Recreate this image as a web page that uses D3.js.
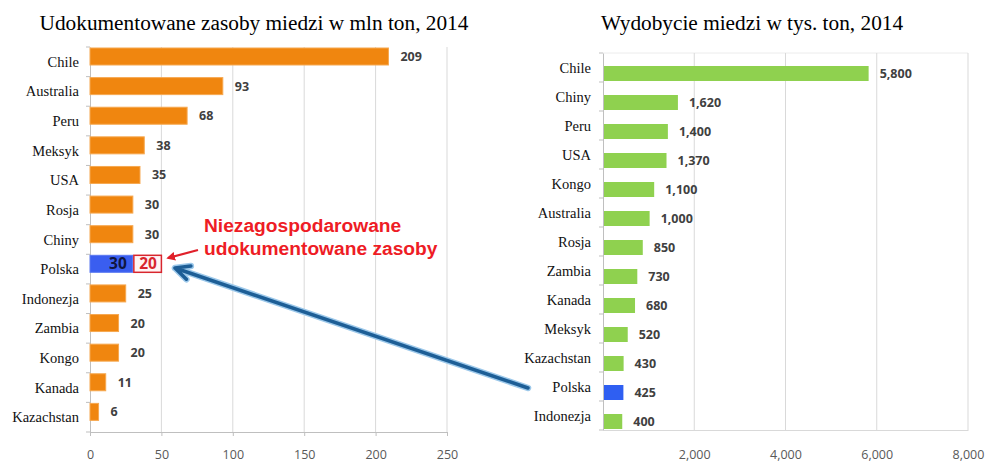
<!DOCTYPE html>
<html>
<head>
<meta charset="utf-8">
<script src="https://cdn.jsdelivr.net/npm/d3@7"></script>
<style>
  body { margin: 0; background: #fff; }
  .title { font-family: "Liberation Serif", "Times New Roman", serif; font-size: 21.3px; fill: #000; }
  .cat { font-family: "Liberation Serif", "Times New Roman", serif; font-size: 14.5px; fill: #111; }
  .val { font-family: "Open Sans", sans-serif; font-size: 12.5px; font-weight: 700; fill: #404040; }
  .tick text { font-family: "Open Sans", sans-serif; font-size: 12.5px; fill: #595959; }
</style>
</head>
<body>
<div id="chart"></div>
<script>
var width = 985,
    height = 462

// left chart: documented copper reserves, mln t
var resCountries = ["Chile", "Australia", "Peru", "Meksyk", "USA", "Rosja", "Chiny", "Polska", "Indonezja", "Zambia", "Kongo", "Kanada", "Kazachstan"]
var resValues = [209, 93, 68, 38, 35, 30, 30, 30, 25, 20, 20, 11, 6]
var resUndeveloped = 20   // extra Polish reserves not yet developed
var resTicks = [0, 50, 100, 150, 200, 250]

// right chart: copper mining, thousand t
var prodCountries = ["Chile", "Chiny", "Peru", "USA", "Kongo", "Australia", "Rosja", "Zambia", "Kanada", "Meksyk", "Kazachstan", "Polska", "Indonezja"]
var prodValues = [5800, 1620, 1400, 1370, 1100, 1000, 850, 730, 680, 520, 430, 425, 400]
var prodTicks = [2000, 4000, 6000, 8000]

var svg = d3.select("#chart")
  .append("svg")
    .attr("width", width)
    .attr("height", height)

var defs = svg.append("defs")
defs.append("marker")
    .attr("id", "redhead")
    .attr("viewBox", "0 0 10 10")
    .attr("refX", 8).attr("refY", 5)
    .attr("markerWidth", 4).attr("markerHeight", 4)
    .attr("orient", "auto")
  .append("path")
    .attr("d", "M0,0 L10,5 L0,10 z")
    .attr("fill", "#e0202a")

// ---------- left chart ----------
var x1 = d3.scaleLinear().domain([0, 250]).range([90, 447])
var y1 = d3.scaleBand().domain(resCountries).range([47, 432])

var g1 = svg.append("g")

g1.append("text")
    .attr("class", "title")
    .attr("x", 254).attr("y", 30)
    .attr("text-anchor", "middle")
    .text("Udokumentowane zasoby miedzi w mln ton, 2014")

g1.append("g")
    .attr("transform", "translate(0,432)")
    .call(d3.axisBottom(x1).tickValues(resTicks).tickSize(4).tickPadding(14))
    .call(function(g) {
      g.select(".domain").attr("stroke", "#bfbfbf")
      g.selectAll(".tick line").attr("stroke", "#bfbfbf")
    })

g1.selectAll("grid1")
  .data(resTicks.slice(1))
  .enter()
  .append("line")
    .attr("x1", function(d){ return x1(d) })
    .attr("x2", function(d){ return x1(d) })
    .attr("y1", 47).attr("y2", 432)
    .attr("stroke", "#d9d9d9")

g1.append("g")
    .attr("transform", "translate(90,0)")
    .call(d3.axisLeft(y1).tickSize(0).tickFormat(""))
    .call(function(g) { g.select(".domain").attr("stroke", "#bfbfbf") })

g1.selectAll("ytick1")
  .data(resCountries.concat(["end"]))
  .enter()
  .append("line")
    .attr("x1", 86).attr("x2", 90)
    .attr("y1", function(d, i){ return 47 + i * y1.step() })
    .attr("y2", function(d, i){ return 47 + i * y1.step() })
    .attr("stroke", "#bfbfbf")

g1.selectAll("cat1")
  .data(resCountries)
  .enter()
  .append("text")
    .attr("class", "cat")
    .attr("x", 79)
    .attr("y", function(d){ return y1(d) + y1.bandwidth() / 2 + 5 })
    .attr("text-anchor", "end")
    .text(function(d){ return d })

g1.selectAll("bar1")
  .data(resCountries)
  .enter()
  .append("rect")
    .attr("x", x1(0))
    .attr("y", function(d){ return y1(d) + 1 })
    .attr("width", function(d, i){ return x1(resValues[i]) - x1(0) })
    .attr("height", 17)
    .attr("fill", function(d){ return d == "Polska" ? "#3a5ef0" : "#f0860f" })
    .attr("stroke", function(d){ return d == "Polska" ? "#5a78f0" : "#f6a850" })
    .attr("stroke-width", 1)

g1.selectAll("val1")
  .data(resCountries)
  .enter()
  .filter(function(d){ return d != "Polska" })
  .append("text")
    .attr("class", "val")
    .attr("x", function(d, i){ return x1(resValues[resCountries.indexOf(d)]) + 12 })
    .attr("y", function(d){ return y1(d) + 14 })
    .text(function(d){ return resValues[resCountries.indexOf(d)] })

// Polska: developed + undeveloped reserves
var pIdx = resCountries.indexOf("Polska")
g1.append("rect")
    .attr("x", x1(resValues[pIdx]) + 1)
    .attr("y", y1("Polska") + 1)
    .attr("width", x1(resValues[pIdx] + resUndeveloped) - x1(resValues[pIdx]) - 1)
    .attr("height", 17)
    .attr("fill", "#fff4f4")
    .attr("stroke", "#d8262e")
    .attr("stroke-width", 1.5)

g1.append("text")
    .attr("x", x1(resValues[pIdx]) - 6)
    .attr("y", y1("Polska") + 15)
    .attr("text-anchor", "end")
    .style("font-family", "Open Sans, sans-serif")
    .style("font-weight", "700")
    .style("font-size", "15.5px")
    .style("fill", "#101640")
    .text(resValues[pIdx])

g1.append("text")
    .attr("x", x1(resValues[pIdx] + resUndeveloped / 2) + 1)
    .attr("y", y1("Polska") + 15)
    .attr("text-anchor", "middle")
    .style("font-family", "Open Sans, sans-serif")
    .style("font-weight", "700")
    .style("font-size", "15.5px")
    .style("fill", "#d8262e")
    .text(resUndeveloped)

var note = g1.append("text")
    .style("font-family", "Liberation Sans, Arial, sans-serif")
    .style("font-weight", "700")
    .style("font-size", "19.2px")
    .style("fill", "#ee1c25")
note.append("tspan").attr("x", 204).attr("y", 232).text("Niezagospodarowane")
note.append("tspan").attr("x", 204).attr("y", 255).text("udokumentowane zasoby")

g1.append("line")
    .attr("x1", 198).attr("y1", 250)
    .attr("x2", 168).attr("y2", 258)
    .attr("stroke", "#e0202a")
    .attr("stroke-width", 2.2)
    .attr("marker-end", "url(#redhead)")

// ---------- right chart ----------
var x2 = d3.scaleLinear().domain([0, 8000]).range([603, 968])
var y2 = d3.scaleBand().domain(prodCountries).range([53, 430])

var g2 = svg.append("g")

g2.append("text")
    .attr("class", "title")
    .attr("x", 752).attr("y", 30)
    .attr("text-anchor", "middle")
    .text("Wydobycie miedzi w tys. ton, 2014")

g2.append("line")
    .attr("x1", 603).attr("x2", 968)
    .attr("y1", 53).attr("y2", 53)
    .attr("stroke", "#ececec")

g2.selectAll("grid2")
  .data(prodTicks)
  .enter()
  .append("line")
    .attr("x1", function(d){ return x2(d) })
    .attr("x2", function(d){ return x2(d) })
    .attr("y1", 53).attr("y2", 430)
    .attr("stroke", "#d9d9d9")

g2.append("g")
    .attr("transform", "translate(0,430)")
    .call(d3.axisBottom(x2).tickValues(prodTicks).tickSize(0).tickPadding(20).tickFormat(d3.format(",")))
    .call(function(g) { g.select(".domain").attr("stroke", "#d9d9d9") })

g2.append("g")
    .attr("transform", "translate(603,0)")
    .call(d3.axisLeft(y2).tickSize(0).tickFormat(""))
    .call(function(g) { g.select(".domain").attr("stroke", "#bfbfbf") })

g2.selectAll("ytick2")
  .data(prodCountries.concat(["end"]))
  .enter()
  .append("line")
    .attr("x1", 599).attr("x2", 603)
    .attr("y1", function(d, i){ return 53 + i * y2.step() })
    .attr("y2", function(d, i){ return 53 + i * y2.step() })
    .attr("stroke", "#bfbfbf")

g2.selectAll("cat2")
  .data(prodCountries)
  .enter()
  .append("text")
    .attr("class", "cat")
    .attr("x", 591)
    .attr("y", function(d){ return y2(d) + 20 })
    .attr("text-anchor", "end")
    .text(function(d){ return d })

g2.selectAll("bar2")
  .data(prodCountries)
  .enter()
  .append("rect")
    .attr("x", x2(0) + 1)
    .attr("y", function(d){ return y2(d) + y2.bandwidth() - 16 })
    .attr("width", function(d, i){ return x2(prodValues[i]) - x2(0) })
    .attr("height", 15)
    .attr("fill", function(d){ return d == "Polska" ? "#2f5ff2" : "#8fd14f" })

g2.selectAll("val2")
  .data(prodCountries)
  .enter()
  .append("text")
    .attr("class", "val")
    .attr("x", function(d, i){ return x2(prodValues[i]) + 12 })
    .attr("y", function(d){ return y2(d) + y2.bandwidth() - 4 })
    .text(function(d, i){ return d3.format(",")(prodValues[i]) })

// ---------- connecting arrow ----------
var ax1 = 528, ay1 = 388, ax2 = 175, ay2 = 268
var ang = Math.atan2(ay1 - ay2, ax1 - ax2)
var wing = 16
var head = "M" + (ax2 + wing * Math.cos(ang + 0.45)) + "," + (ay2 + wing * Math.sin(ang + 0.45)) +
           " L" + ax2 + "," + ay2 +
           " L" + (ax2 + wing * Math.cos(ang - 0.45)) + "," + (ay2 + wing * Math.sin(ang - 0.45))
var arrowPath = "M" + ax1 + "," + ay1 + " L" + ax2 + "," + ay2 + " " + head

svg.append("path")
    .attr("d", arrowPath)
    .attr("fill", "none")
    .attr("stroke", "#9cc8ea")
    .attr("stroke-width", 6.5)
    .attr("stroke-linecap", "round")
    .attr("stroke-linejoin", "round")
svg.append("path")
    .attr("d", arrowPath)
    .attr("fill", "none")
    .attr("stroke", "#1d5e96")
    .attr("stroke-width", 3.5)
    .attr("stroke-linecap", "round")
    .attr("stroke-linejoin", "round")
</script>
</body>
</html>
